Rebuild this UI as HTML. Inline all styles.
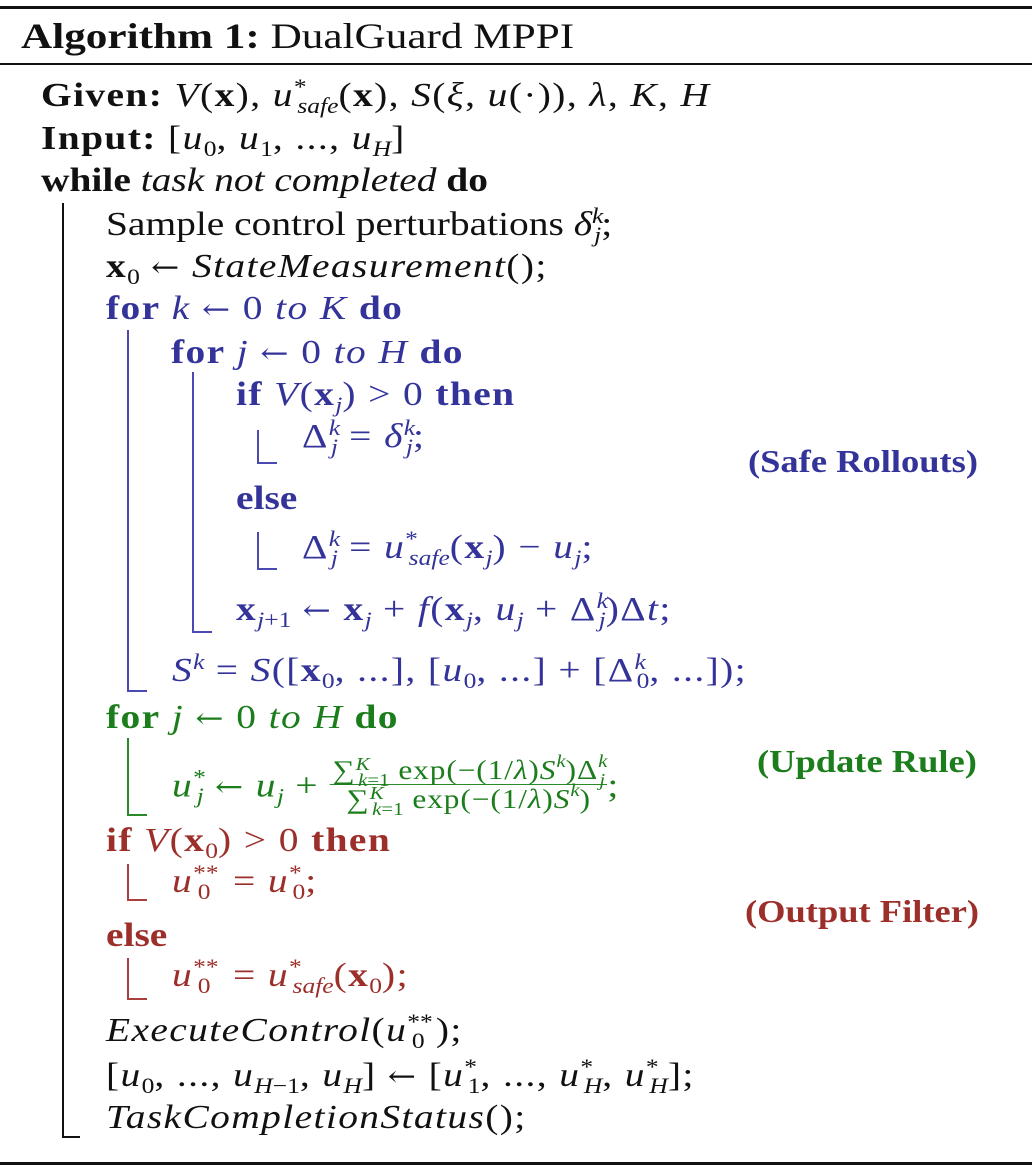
<!DOCTYPE html>
<html><head><meta charset="utf-8"><style>
body{margin:0;width:1032px;height:1173px;background:#fff;position:relative;overflow:hidden;font-family:"Liberation Serif",serif;font-size:34px;color:#111}
.l{position:absolute;white-space:nowrap;line-height:32px;transform:scaleX(1.16);transform-origin:0 0;margin-top:2px}
.m{letter-spacing:1.2px}
.lab{transform:scaleX(1.14);font-size:32px}
i{font-style:italic}
b{font-weight:bold}
sub,sup{font-size:22px;line-height:0;letter-spacing:0}
sub{vertical-align:-7px}
sup{vertical-align:12px}
.bl{color:#33339a}.gr{color:#1b7d1b}.rd{color:#9c2f2a}
.v{position:absolute;width:2px}
.h{position:absolute;height:2px}
.bx{font-weight:bold;font-style:normal}
.ar{font-family:"DejaVu Serif",serif;font-size:29px}
.fr{display:inline-block;vertical-align:middle;text-align:center;font-size:27px;line-height:28px;letter-spacing:0.8px}
.fr span{display:block}
.fr sub,.fr sup{font-size:18px}
</style></head><body>
<div class="h" style="left:0;top:6px;width:1032px;height:3px;background:#111"></div>
<div class="h" style="left:0;top:63px;width:1032px;height:2px;background:#111"></div>
<div class="h" style="left:0;top:1162px;width:1032px;height:3px;background:#111"></div>

<div class="l" style="left:21px;top:18px;font-size:36px;transform:scaleX(1.2)"><b>Algorithm 1:</b> DualGuard MPPI</div>
<div class="l m" style="left:41px;top:78px"><b>Given:</b> <i>V</i>(<span class="bx">x</span>), <i>u</i><sup>*</sup><sub style="margin-left:-8px"><i>safe</i></sub>(<span class="bx">x</span>), <i>S</i>(<i>ξ</i>, <i>u</i>(·)), <i>λ</i>, <i>K</i>, <i>H</i></div>
<div class="l m" style="left:41px;top:121px"><b>Input:</b> [<i>u</i><sub>0</sub>, <i>u</i><sub>1</sub>, ..., <i>u</i><sub><i>H</i></sub>]</div>
<div class="l" style="left:41px;top:163px"><b>while</b> <i>task not completed</i> <b>do</b></div>

<div class="v" style="left:62px;top:203px;height:935px;background:#111"></div>
<div class="h" style="left:62px;top:1136px;width:18px;background:#111"></div>

<div class="l" style="left:106px;top:207px">Sample control perturbations <i>δ</i><sup><i>k</i></sup><sub style="margin-left:-8px"><i>j</i></sub>;</div>
<div class="l m" style="left:106px;top:249px"><span class="bx">x</span><sub>0</sub> <span class="ar">←</span> <i>StateMeasurement</i>();</div>

<div class="bl">
<div class="l m" style="left:106px;top:291px"><b>for</b> <i>k</i> <span class="ar">←</span> 0 <i>to K</i> <b>do</b></div>
<div class="v" style="left:127px;top:330px;height:362px;background:#4a4ab0"></div>
<div class="h" style="left:127px;top:690px;width:20px;background:#4a4ab0"></div>
<div class="l m" style="left:171px;top:335px"><b>for</b> <i>j</i> <span class="ar">←</span> 0 <i>to H</i> <b>do</b></div>
<div class="v" style="left:192px;top:372px;height:261px;background:#4a4ab0"></div>
<div class="h" style="left:192px;top:631px;width:20px;background:#4a4ab0"></div>
<div class="l m" style="left:236px;top:377px"><b>if</b> <i>V</i>(<span class="bx">x</span><sub><i>j</i></sub>) &gt; 0 <b>then</b></div>
<div class="v" style="left:257px;top:430px;height:34px;background:#4a4ab0"></div>
<div class="h" style="left:257px;top:462px;width:20px;background:#4a4ab0"></div>
<div class="l m" style="left:302px;top:419px">Δ<sup><i>k</i></sup><sub style="margin-left:-8px"><i>j</i></sub> = <i>δ</i><sup><i>k</i></sup><sub style="margin-left:-8px"><i>j</i></sub>;</div>
<div class="l" style="left:236px;top:481px"><b>else</b></div>
<div class="v" style="left:257px;top:532px;height:38px;background:#4a4ab0"></div>
<div class="h" style="left:257px;top:568px;width:20px;background:#4a4ab0"></div>
<div class="l m" style="left:302px;top:530px">Δ<sup><i>k</i></sup><sub style="margin-left:-8px"><i>j</i></sub> = <i>u</i><sup>*</sup><sub style="margin-left:-8px"><i>safe</i></sub>(<span class="bx">x</span><sub><i>j</i></sub>) − <i>u</i><sub><i>j</i></sub>;</div>
<div class="l m" style="left:236px;top:592px"><span class="bx">x</span><sub><i>j</i>+1</sub> <span class="ar">←</span> <span class="bx">x</span><sub><i>j</i></sub> + <i>f</i>(<span class="bx">x</span><sub><i>j</i></sub>, <i>u</i><sub><i>j</i></sub> + Δ<sup><i>k</i></sup><sub style="margin-left:-8px"><i>j</i></sub>)Δ<i>t</i>;</div>
<div class="l m" style="left:172px;top:653px"><i>S</i><sup><i>k</i></sup> = <i>S</i>([<span class="bx">x</span><sub>0</sub>, ...], [<i>u</i><sub>0</sub>, ...] + [Δ<sup><i>k</i></sup><sub style="margin-left:-8px">0</sub>, ...]);</div>
<div class="l lab" style="left:748px;top:443px;font-weight:bold">(Safe Rollouts)</div>
</div>

<div class="gr">
<div class="l m" style="left:106px;top:700px"><b>for</b> <i>j</i> <span class="ar">←</span> 0 <i>to H</i> <b>do</b></div>
<div class="v" style="left:127px;top:738px;height:78px;background:#2a8a2a"></div>
<div class="h" style="left:127px;top:814px;width:20px;background:#2a8a2a"></div>
<div class="l m" style="left:172px;top:758px"><i>u</i><sup>*</sup><sub style="margin-left:-8px"><i>j</i></sub> <span class="ar">←</span> <i>u</i><sub><i>j</i></sub> + <span class="fr" style="position:relative;top:-4px"><span style="border-bottom:1.5px solid #2a8a2a;padding:0 2px">∑<sup style="vertical-align:9px"><i>K</i></sup><sub style="margin-left:-10px"><i>k</i>=1</sub> exp(−(1/<i>λ</i>)<i>S</i><sup><i>k</i></sup>)Δ<sup><i>k</i></sup><sub style="margin-left:-7px"><i>j</i></sub></span><span>∑<sup style="vertical-align:9px"><i>K</i></sup><sub style="margin-left:-10px"><i>k</i>=1</sub> exp(−(1/<i>λ</i>)<i>S</i><sup><i>k</i></sup>)</span></span>;</div>
<div class="l lab" style="left:757px;top:743px;font-weight:bold">(Update Rule)</div>
</div>

<div class="rd">
<div class="l m" style="left:106px;top:823px"><b>if</b> <i>V</i>(<span class="bx">x</span><sub>0</sub>) &gt; 0 <b>then</b></div>
<div class="v" style="left:127px;top:864px;height:37px;background:#a84040"></div>
<div class="h" style="left:127px;top:899px;width:20px;background:#a84040"></div>
<div class="l m" style="left:172px;top:864px"><i>u</i><sup>**</sup><sub style="margin-left:-18px">0</sub> &nbsp;= <i>u</i><sup>*</sup><sub style="margin-left:-8px">0</sub>;</div>
<div class="l lab" style="left:745px;top:893px;font-weight:bold">(Output Filter)</div>
<div class="l" style="left:106px;top:918px"><b>else</b></div>
<div class="v" style="left:127px;top:958px;height:42px;background:#a84040"></div>
<div class="h" style="left:127px;top:998px;width:20px;background:#a84040"></div>
<div class="l m" style="left:172px;top:958px"><i>u</i><sup>**</sup><sub style="margin-left:-18px">0</sub> &nbsp;= <i>u</i><sup>*</sup><sub style="margin-left:-8px"><i>safe</i></sub>(<span class="bx">x</span><sub>0</sub>);</div>
</div>

<div class="l m" style="left:106px;top:1013px"><i>ExecuteControl</i>(<i>u</i><sup>**</sup><sub style="margin-left:-18px">0</sub>&nbsp;);</div>
<div class="l m" style="left:106px;top:1058px">[<i>u</i><sub>0</sub>, ..., <i>u</i><sub><i>H</i>−1</sub>, <i>u</i><sub><i>H</i></sub>] <span class="ar">←</span> [<i>u</i><sup>*</sup><sub style="margin-left:-8px">1</sub>, ..., <i>u</i><sup>*</sup><sub style="margin-left:-8px"><i>H</i></sub>, <i>u</i><sup>*</sup><sub style="margin-left:-8px"><i>H</i></sub>];</div>
<div class="l m" style="left:106px;top:1100px"><i>TaskCompletionStatus</i>();</div>
</body></html>
